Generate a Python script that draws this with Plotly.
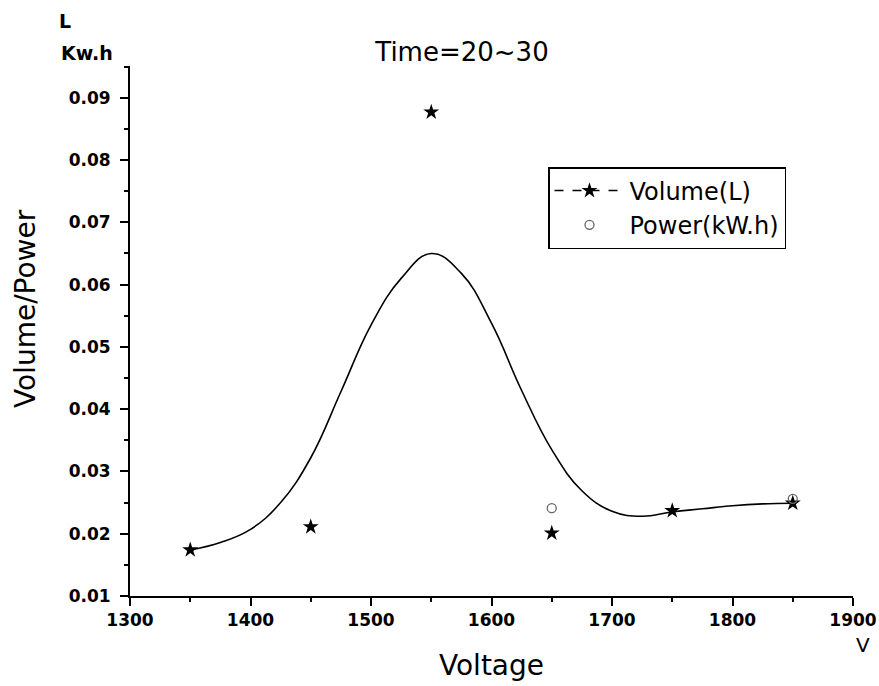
import plotly.graph_objects as go

# Volume (L) measured points
voltage = [1350, 1450, 1550, 1650, 1750, 1850]
volume = [0.0174, 0.0211, 0.0877, 0.0201, 0.0237, 0.0249]

# Power (kW.h) points still visible in the figure
power_voltage = [1650, 1850]
power = [0.0241, 0.0256]

# smoothed curve
curve_voltage = [1350, 1375, 1400, 1425, 1450, 1475, 1500, 1525, 1550, 1575, 1600,
                 1625, 1650, 1675, 1700, 1725, 1750, 1775, 1800, 1825, 1850]
curve_value = [0.0174, 0.0186, 0.0207, 0.0250, 0.0322, 0.0428, 0.0535, 0.0610, 0.0650,
               0.0618, 0.0538, 0.0430, 0.0335, 0.0269, 0.0236, 0.0228, 0.0235, 0.0240,
               0.0245, 0.0248, 0.0249]

x_ticks = [1300, 1400, 1500, 1600, 1700, 1800, 1900]
y_ticks = [0.01, 0.02, 0.03, 0.04, 0.05, 0.06, 0.07, 0.08, 0.09]
y_tick_text = ["0.01", "0.02", "0.03", "0.04", "0.05", "0.06", "0.07", "0.08", "0.09"]

FONT = "DejaVu Sans"

W, H = 879, 684
PL, PT, PW, PH = 130, 66, 723, 530

fig = go.Figure()

fig.add_trace(go.Scatter(
    x=curve_voltage, y=curve_value, mode="lines",
    line=dict(color="black", width=1.6, shape="spline", smoothing=1.2),
    showlegend=False, hoverinfo="skip"))

fig.add_trace(go.Scatter(
    x=voltage, y=volume, mode="markers",
    marker=dict(symbol="star", size=12, color="black"),
    name="Volume(L)", showlegend=False))

fig.add_trace(go.Scatter(
    x=[None], y=[None], mode="lines+markers",
    line=dict(color="black", width=1.5, dash="dash"),
    marker=dict(symbol="star", size=12, color="black"),
    name="Volume(L)"))

fig.add_trace(go.Scatter(
    x=power_voltage, y=power, mode="markers",
    marker=dict(symbol="circle-open", size=9, color="#666666", line=dict(width=1.3, color="#666666")),
    name="Power(kW.h)"))

fig.update_layout(
    width=W, height=H,
    margin=dict(l=PL, r=W - PL - PW, t=PT, b=H - PT - PH, autoexpand=False),
    paper_bgcolor="white", plot_bgcolor="white",
    font=dict(family=FONT, color="black"),
    title=dict(text="Time=20~30", x=462 / W, xref="container", xanchor="center",
               y=1 - 52 / H, yref="container", yanchor="middle",
               font=dict(family=FONT, size=26, color="black")),
    showlegend=True,
    legend=dict(x=(548 - 130) / 723, y=(596 - 167) / 530, xanchor="left", yanchor="top",
                bgcolor="white", bordercolor="black", borderwidth=1.5,
                font=dict(family=FONT, size=24, color="black"),
                itemwidth=70),
)

fig.update_xaxes(
    range=[1300, 1900], tickvals=x_ticks, automargin=False,
    showline=True, linecolor="black", linewidth=2, mirror=False,
    showgrid=False, zeroline=False,
    ticks="outside", ticklen=8, tickwidth=1.5, tickcolor="black",
    tickfont=dict(family=FONT, size=17, color="black", weight="bold"),
    minor=dict(dtick=50, tick0=1300, ticks="outside", ticklen=4, tickwidth=1.5, tickcolor="black"),
    title=dict(text="Voltage", font=dict(family=FONT, size=28, color="black"), standoff=26),
)

fig.update_yaxes(
    range=[0.01, 0.0951], tickvals=y_ticks, ticktext=y_tick_text, automargin=False,
    showline=True, linecolor="black", linewidth=2, mirror=False,
    showgrid=False, zeroline=False,
    ticks="outside", ticklen=8, tickwidth=1.5, tickcolor="black",
    ticklabelstandoff=6,
    tickfont=dict(family=FONT, size=17, color="black", weight="bold"),
    minor=dict(dtick=0.005, tick0=0.005, ticks="outside", ticklen=4, tickwidth=1.5, tickcolor="black"),
)

fig.add_annotation(text="Volume/Power", textangle=-90, showarrow=False,
                   xref="paper", yref="paper", x=(25 - 130) / 723, y=(596 - 308) / 530,
                   xanchor="center", yanchor="middle",
                   font=dict(family=FONT, size=28, color="black"))
fig.add_annotation(text="L", showarrow=False, xref="paper", yref="paper",
                   x=(65 - 130) / 723, y=(596 - 21) / 530, xanchor="center", yanchor="middle",
                   font=dict(family=FONT, size=19, color="black", weight="bold"))
fig.add_annotation(text="Kw.h", showarrow=False, xref="paper", yref="paper",
                   x=(87 - 130) / 723, y=(596 - 53) / 530, xanchor="center", yanchor="middle",
                   font=dict(family=FONT, size=19, color="black", weight="bold"))
fig.add_annotation(text="V", showarrow=False, xref="paper", yref="paper",
                   x=(863 - 130) / 723, y=(596 - 645) / 530, xanchor="center", yanchor="middle",
                   font=dict(family=FONT, size=20, color="black"))

fig.write_html("out.html",
               config={"displayModeBar": False},
               post_script="document.body.style.margin='0';"
                           "document.documentElement.style.overflow='hidden';")
